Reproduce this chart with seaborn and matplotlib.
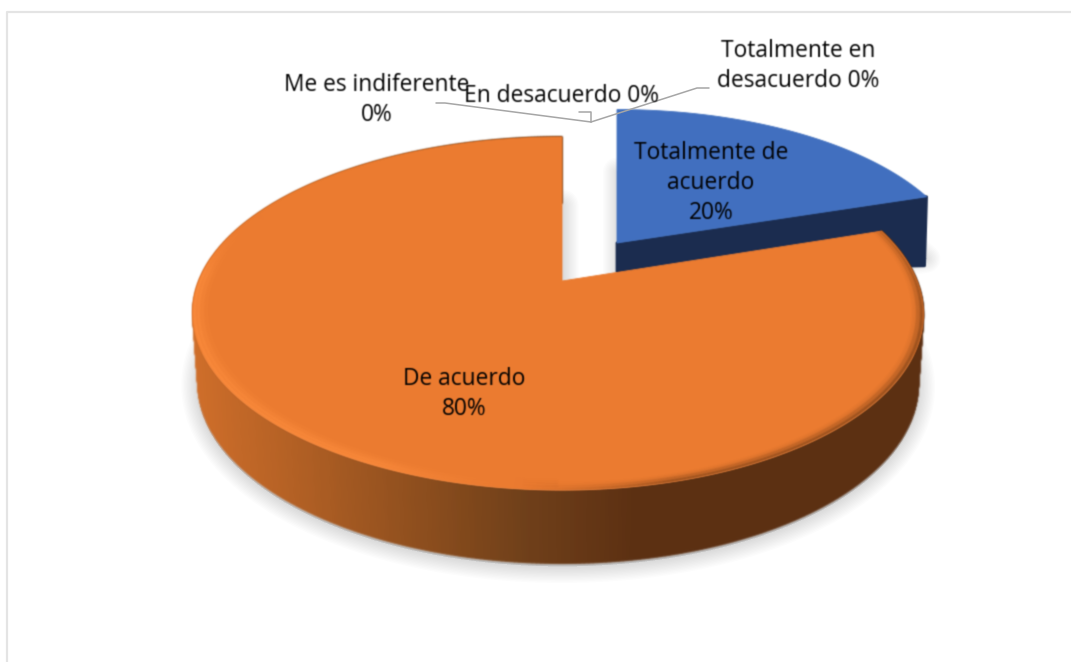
import numpy as np
import seaborn as sns
import matplotlib.pyplot as plt
from matplotlib.collections import PolyCollection

categories = ['Totalmente de acuerdo', 'De acuerdo', 'Me es indiferente',
              'En desacuerdo', 'Totalmente en desacuerdo']
shares = [20, 80, 0, 0, 0]
label_lines = ['Totalmente de\nacuerdo\n{}%', 'De acuerdo\n{}%', 'Me es indiferente\n{}%',
               'En desacuerdo {}%', 'Totalmente en\ndesacuerdo {}%']
label_x = [711, 464, 377, 561, 798]
label_y = [183, 394, 100, 96, 66]

sns.set_theme(style='white')
plt.rcParams['font.family'] = ['Open Sans', 'DejaVu Sans']

# perspective of the pie plane
tilt = 0.184
orange_top = dict(cx=558, cy=281, R=359, Rg=170.6, lean=4)
orange_low = dict(cx=558, cy=350, R=354, Rg=174, lean=4)
blue_top = dict(cx=617, cy=243, R=344, Rg=158, lean=0)


def project(theta, plane, r=1.0):
    t = np.radians(theta)
    u, v = r * np.sin(t), r * np.cos(t)
    f = 1 / (1 + tilt * v)
    return plane['cx'] + plane['R'] * u * f + plane['lean'] * v ** 2, plane['cy'] - plane['Rg'] * v * f


def wedge(start, end, plane):
    th = np.linspace(start, end, 300)
    x, y = project(th, plane)
    return np.r_[plane['cx'] + plane['lean'], x], np.r_[plane['cy'], y]


def soft_shadow(x, y, widths):
    for w in widths:
        ax.fill(x, y, fc='#808080', ec='#808080', lw=w, alpha=0.022, joinstyle='round', zorder=1)


# the reference is a slightly blurred screenshot
def soften(img, dpi):
    pad = 4
    a = np.pad(img[:, :, 3], pad)
    rgb = np.stack([np.pad(img[:, :, i], pad) * a for i in range(3)], axis=2)
    kernel = np.array([0.2, 0.6, 0.2])
    for axis in (0, 1):
        a = np.apply_along_axis(np.convolve, axis, a, kernel, mode='same')
        rgb = np.apply_along_axis(np.convolve, axis, rgb, kernel, mode='same')
    out = np.dstack([rgb / np.maximum(a[:, :, None], 1e-4), a])
    return np.clip(out, 0, 1), -pad, -pad


# angles come from the shares, clockwise from the top
ends = np.cumsum(shares) / np.sum(shares) * 360
blue_end, orange_end = ends[0], ends[1]

fig = plt.figure(figsize=(10.71, 6.62), dpi=100)
ax = fig.add_axes([0, 0, 1, 1])
ax.set_xlim(0, 1071)
ax.set_ylim(662, 0)
ax.axis('off')

# chart frame, cut off at the right and bottom of the picture
ax.plot([6.5, 6.5, 1071], [662, 12, 12], color='#e4e4e4', lw=1.6, zorder=0)

# shadows
bx, by = wedge(0, blue_end, blue_top)
soft_shadow(bx, by + 62, np.arange(2, 22, 2))
ox, oy = wedge(blue_end, orange_end, orange_low)
soft_shadow(ox, oy + 3, np.arange(2, 26, 2))

# blue slice: cut face then top
corner_x, corner_y = project(blue_end, blue_top)
cut = ax.fill([blue_top['cx'], corner_x, corner_x - 2, blue_top['cx']],
              [blue_top['cy'], corner_y, corner_y + 69, blue_top['cy'] + 29],
              fc='#1b2c4f', ec='#1b2c4f', lw=2, joinstyle='round', zorder=2)[0]
cut.set_agg_filter(soften)
face = ax.fill(bx, by, fc='#4170bf', ec='#4170bf', lw=0.6, zorder=3)[0]
face.set_agg_filter(soften)

# orange side wall, shading goes left to right
wall_colors = sns.blend_palette(['#cf6e2a', '#b05f24', '#8f4f1e', '#70401a', '#5c3012', '#5c3012'], 400)
edges = np.linspace(blue_end, orange_end, 500)
polys, cols = [], []
for a, b in zip(edges[:-1], edges[1:]):
    x0, y0 = project(a, orange_top)
    x1, y1 = project(b, orange_top)
    x2, y2 = project(b, orange_low)
    x3, y3 = project(a, orange_low)
    polys.append([(x0, y0), (x1, y1), (x2, y2), (x3, y3)])
    pos = np.clip(((x0 + x3) / 2 - 195) / (750 - 195), 0, 0.999)
    cols.append(wall_colors[int(pos * 400)])
wall = PolyCollection(polys, facecolors=cols, edgecolors=cols, linewidths=1.2, zorder=4)
wall.set_agg_filter(soften)
ax.add_collection(wall)

# orange top
tx, ty = wedge(blue_end, orange_end, orange_top)
top = ax.fill(tx, ty, fc='#eb7b30', ec='#eb7b30', lw=0.6, zorder=5)[0]
top.set_agg_filter(soften)

# bevel on the rim: bright on the left and front, thin and dark on the right
stops = [blue_end, 100, 165, 185, 205, 272, 295]
rim_rgb = np.array([[.48, .25, .09], [.48, .25, .09], [.48, .25, .09], [.92, .48, .19],
                    [.99, .55, .24], [.99, .55, .24], [.92, .48, .19]])
rim_alpha = np.array([.4, .7, .7, .5, .9, .9, 0])
rings = [(1.0, 0.99, 1.0, 1.0), (0.99, 0.98, 0.85, 0.5), (0.98, 0.97, 0.5, 0.12), (0.97, 0.96, 0.2, 0)]
rim_edges = np.linspace(blue_end, orange_end, 500)
for r0, r1, bright, dark in rings:
    polys, cols = [], []
    for a, b in zip(rim_edges[:-1], rim_edges[1:]):
        x0, y0 = project(a, orange_top, r0)
        x1, y1 = project(b, orange_top, r0)
        x2, y2 = project(b, orange_top, r1)
        x3, y3 = project(a, orange_top, r1)
        polys.append([(x0, y0), (x1, y1), (x2, y2), (x3, y3)])
        rgb = [np.interp(a, stops, rim_rgb[:, i]) for i in range(3)]
        fade = bright if a > 180 else dark
        cols.append((*rgb, np.interp(a, stops, rim_alpha) * fade))
    ring = PolyCollection(polys, facecolors=cols, edgecolors='none', zorder=6)
    ring.set_agg_filter(soften)
    ax.add_collection(ring)

# leader lines of the empty slices
ax.plot([436, 445, 591], [103, 103, 122], color='#a6a6a6', lw=1.1, zorder=7)
ax.plot([579, 591, 591], [112, 112, 122], color='#a6a6a6', lw=1.1, zorder=7)
ax.plot([591, 697, 709], [122, 88, 88], color='#a6a6a6', lw=1.1, zorder=7)

for text, share, x, y in zip(label_lines, shares, label_x, label_y):
    lab = ax.text(x, y, text.format(share), ha='center', va='center', fontsize=16.4,
                  color='black', linespacing=1.32, zorder=8)
    lab.set_agg_filter(soften)

plt.savefig('out.png', dpi=100)
